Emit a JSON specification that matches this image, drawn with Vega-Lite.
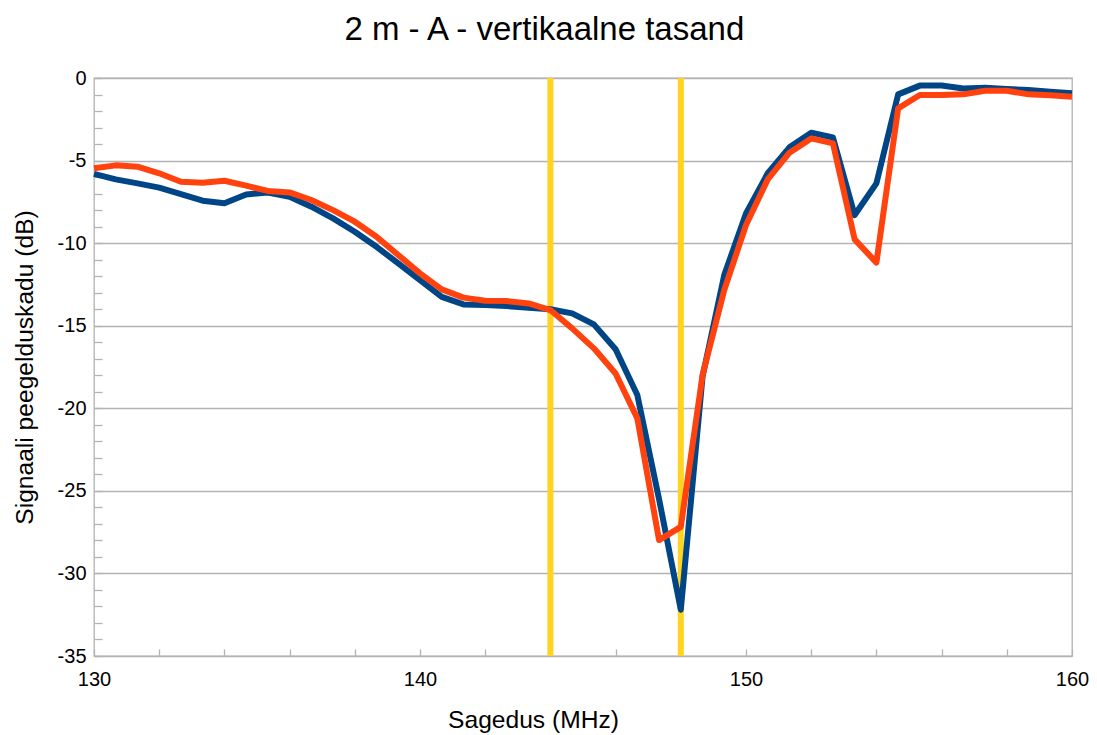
{
  "$schema": "https://vega.github.io/schema/vega-lite/v6.json",
  "width": 978,
  "height": 578,
  "autosize": {"type": "none"},
  "padding": {"left": 94, "top": 78, "right": 25, "bottom": 79},
  "background": "white",
  "title": {
    "text": "2 m - A - vertikaalne tasand",
    "font": "Liberation Sans",
    "fontSize": 33,
    "fontWeight": "normal",
    "color": "black",
    "anchor": "middle",
    "frame": "bounds",
    "baseline": "alphabetic",
    "offset": 27,
    "dy": 32,
    "dx": -6
  },
  "config": {
    "view": {"stroke": "#b3b3b3", "strokeWidth": 1.3},
    "axis": {
      "domain": false,
      "labelFont": "Liberation Sans",
      "labelFontSize": 20,
      "labelColor": "black",
      "titleFont": "Liberation Sans",
      "titleFontSize": 24.6,
      "titleFontWeight": "normal",
      "titleColor": "black",
      "tickColor": "#b3b3b3",
      "tickWidth": 1.3,
      "gridColor": "#b3b3b3",
      "gridWidth": 1.3,
      "labelOverlap": false,
      "labelFlush": false
    }
  },
  "datasets": {
    "mootmised": [
      {"f": 130, "a": -5.81, "b": -5.47},
      {"f": 130.667, "a": -6.14, "b": -5.29},
      {"f": 131.333, "a": -6.38, "b": -5.37},
      {"f": 132, "a": -6.64, "b": -5.77},
      {"f": 132.667, "a": -7.03, "b": -6.28},
      {"f": 133.333, "a": -7.43, "b": -6.34},
      {"f": 134, "a": -7.59, "b": -6.22},
      {"f": 134.667, "a": -7.05, "b": -6.52},
      {"f": 135.333, "a": -6.93, "b": -6.84},
      {"f": 136, "a": -7.19, "b": -6.93},
      {"f": 136.667, "a": -7.79, "b": -7.39},
      {"f": 137.333, "a": -8.5, "b": -8.0},
      {"f": 138, "a": -9.31, "b": -8.7},
      {"f": 138.667, "a": -10.22, "b": -9.61},
      {"f": 139.333, "a": -11.23, "b": -10.72},
      {"f": 140, "a": -12.24, "b": -11.83},
      {"f": 140.667, "a": -13.25, "b": -12.8},
      {"f": 141.333, "a": -13.71, "b": -13.3},
      {"f": 142, "a": -13.75, "b": -13.49},
      {"f": 142.667, "a": -13.81, "b": -13.51},
      {"f": 143.333, "a": -13.91, "b": -13.65},
      {"f": 144, "a": -14.0, "b": -14.05},
      {"f": 144.667, "a": -14.25, "b": -15.16},
      {"f": 145.333, "a": -14.92, "b": -16.37},
      {"f": 146, "a": -16.43, "b": -17.89},
      {"f": 146.667, "a": -19.2, "b": -20.61},
      {"f": 147.333, "a": -25.5, "b": -27.98},
      {"f": 148, "a": -32.2, "b": -27.18},
      {"f": 148.667, "a": -18.09, "b": -17.99},
      {"f": 149.333, "a": -11.93, "b": -12.84},
      {"f": 150, "a": -8.2, "b": -8.9},
      {"f": 150.667, "a": -5.77, "b": -6.14},
      {"f": 151.333, "a": -4.2, "b": -4.52},
      {"f": 152, "a": -3.31, "b": -3.66},
      {"f": 152.667, "a": -3.6, "b": -3.96},
      {"f": 153.333, "a": -8.3, "b": -9.77},
      {"f": 154, "a": -6.38, "b": -11.18},
      {"f": 154.667, "a": -0.99, "b": -1.84},
      {"f": 155.333, "a": -0.46, "b": -1.03},
      {"f": 156, "a": -0.46, "b": -1.03},
      {"f": 156.667, "a": -0.63, "b": -0.99},
      {"f": 157.333, "a": -0.59, "b": -0.77},
      {"f": 158, "a": -0.67, "b": -0.77},
      {"f": 158.667, "a": -0.73, "b": -0.99},
      {"f": 159.333, "a": -0.83, "b": -1.05},
      {"f": 160, "a": -0.93, "b": -1.13}
    ],
    "sagedused": [{"f": 144}, {"f": 148}]
  },
  "encoding": {
    "x": {
      "field": "f",
      "type": "quantitative",
      "scale": {"domain": [130, 160], "nice": false, "zero": false},
      "axis": {
        "title": "Sagedus (MHz)",
        "titleX": 439,
        "titleY": 71,
        "titleBaseline": "alphabetic",
        "titleAlign": "center",
        "values": [130, 132, 134, 136, 138, 140, 142, 144, 146, 148, 150, 152, 154, 156, 158, 160],
        "labelExpr": "datum.value % 10 === 0 ? '' + datum.value : ''",
        "grid": false,
        "tickSize": -7,
        "labelPadding": 20
      }
    }
  },
  "layer": [
    {
      "data": {"name": "sagedused"},
      "mark": {"type": "rule", "color": "#ffd320", "strokeWidth": 6}
    },
    {
      "data": {"name": "mootmised"},
      "transform": [{"fold": ["a", "b"], "as": ["seeria", "dB"]}],
      "mark": {"type": "line", "strokeWidth": 6, "strokeJoin": "round", "strokeCap": "butt"},
      "encoding": {
        "y": {
          "field": "dB",
          "type": "quantitative",
          "scale": {"domain": [-35, 0], "nice": false, "zero": false},
          "axis": {
            "title": "Signaali peegelduskadu (dB)",
            "titleX": -62,
            "titleY": 289,
            "titleAngle": -90,
            "titleBaseline": "alphabetic",
            "titleAlign": "center",
            "values": [-35, -34, -33, -32, -31, -30, -29, -28, -27, -26, -25, -24, -23, -22, -21, -20, -19, -18, -17, -16, -15, -14, -13, -12, -11, -10, -9, -8, -7, -6, -5, -4, -3, -2, -1, 0],
            "labelExpr": "datum.value % 5 === 0 ? '' + datum.value : ''",
            "grid": true,
            "gridOpacity": {"condition": {"test": "datum.value % 5 === 0", "value": 1}, "value": 0},
            "tickSize": -8,
            "labelPadding": 16
          }
        },
        "color": {
          "field": "seeria",
          "type": "nominal",
          "scale": {"domain": ["a", "b"], "range": ["#004586", "#ff420e"]},
          "legend": null
        }
      }
    }
  ]
}
